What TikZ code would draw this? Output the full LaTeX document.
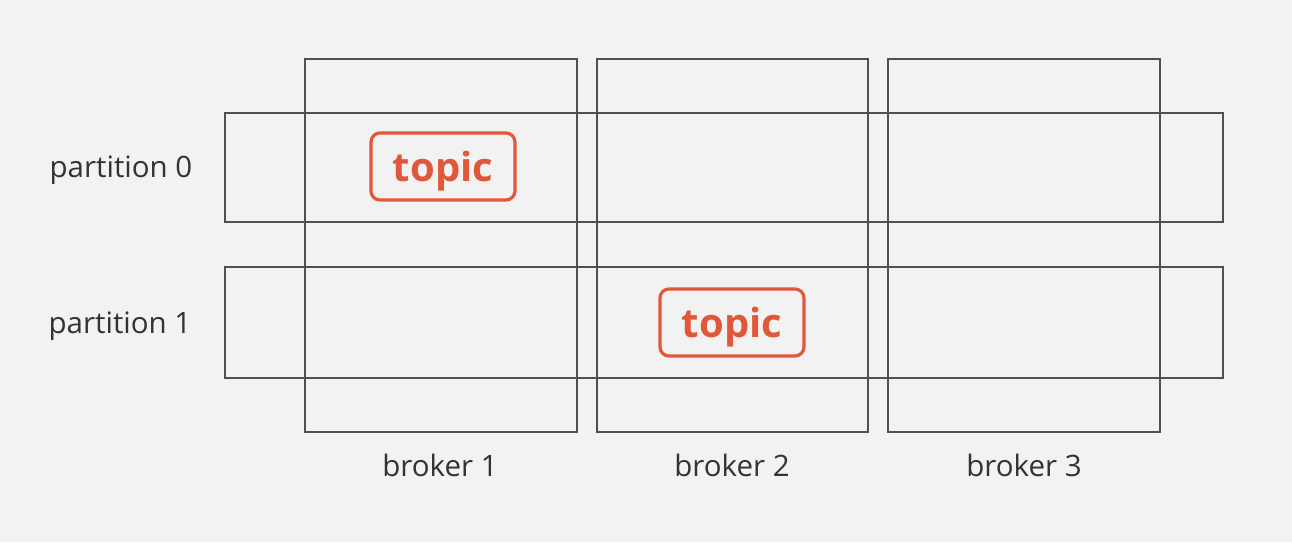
\documentclass[tikz,border=0pt]{standalone}
\usepackage{fontspec}
\setmainfont{Open Sans}
\definecolor{bg}{HTML}{F2F2F2}
\definecolor{frame}{HTML}{505050}
\definecolor{topicc}{HTML}{E0573A}
\definecolor{txt}{HTML}{333333}
\begin{document}
\begin{tikzpicture}[x=1pt,y=-1pt,
  cell/.style={draw=frame,line width=1.4pt},
  lbl/.style={font=\fontsize{29.5}{33}\selectfont,text=txt,inner sep=0pt},
  topicbox/.style={draw=topicc,line width=3.2pt,rounded corners=9pt,text=topicc,
    font=\fontsize{40}{44}\selectfont\bfseries,minimum width=144pt,minimum height=67pt,inner sep=0pt,
    text depth=0pt}]
\fill[bg] (0,0) rectangle (1292,542);
\useasboundingbox (0,0) rectangle (1292,542);
% brokers
\draw[cell] (305,59) rectangle (577,432);
\draw[cell] (597,59) rectangle (868,432);
\draw[cell] (888,59) rectangle (1160,432);
% partitions
\draw[cell] (225,113) rectangle (1223,222);
\draw[cell] (225,267) rectangle (1223,378);
% labels
\node[lbl] (p0) at (121,170) {partition 0};
\node[lbl] (p1) at (120,326) {partition 1};
\node[lbl] (b1) at (440,465) {broker 1};
\node[lbl] (b2) at (732,465) {broker 2};
\node[lbl] (b3) at (1024,465) {broker 3};
% topics
\node[topicbox] (t1) at (443,166.5) {topic};
\node[topicbox] (t2) at (732,322.5) {topic};
\end{tikzpicture}
\end{document}
